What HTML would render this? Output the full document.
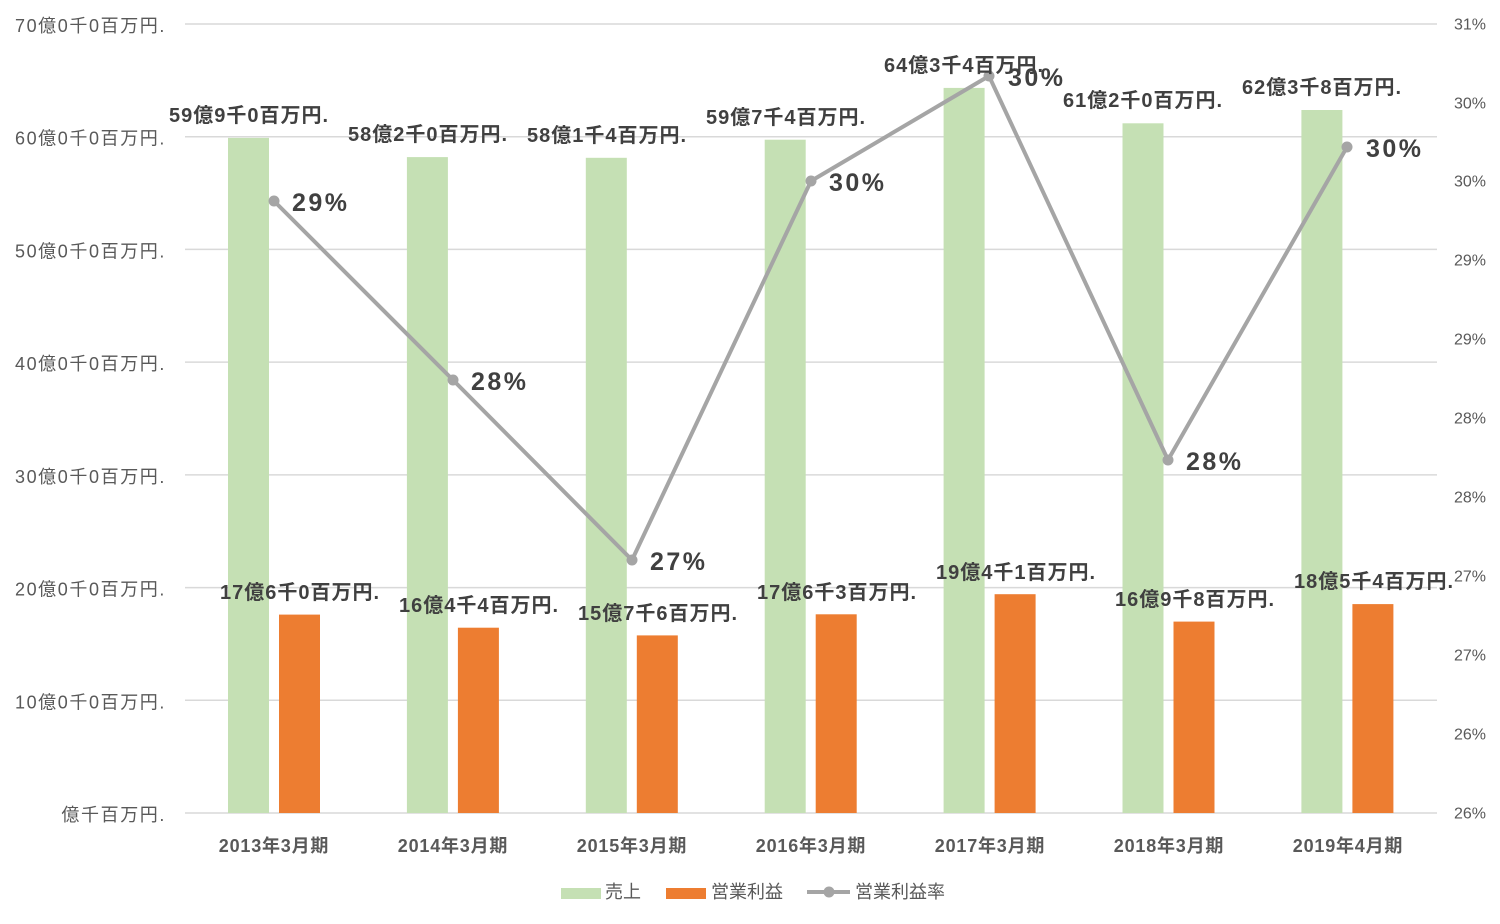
<!DOCTYPE html>
<html>
<head>
<meta charset="utf-8">
<style>
  html, body { margin:0; padding:0; background:#ffffff; }
  svg { display:block; }
  text { font-family: "Liberation Sans", "Noto Sans CJK JP", sans-serif; }
  .ax { font-size:18px; fill:#595959; letter-spacing:1.6px; }
  .axr { font-size:16px; fill:#595959; }
  .cat { font-size:18px; font-weight:bold; fill:#595959; letter-spacing:0.8px; }
  .gl { font-size:20px; font-weight:bold; fill:#404040; letter-spacing:1px; }
  .ol { font-size:20px; font-weight:bold; fill:#404040; letter-spacing:1px; }
  .pl { font-size:25px; font-weight:bold; fill:#404040; letter-spacing:2.5px; }
  .lg { font-size:18px; fill:#595959; }
</style>
</head>
<body>
<svg width="1500" height="924" viewBox="0 0 1500 924" xmlns="http://www.w3.org/2000/svg">
  <rect width="1500" height="924" fill="#ffffff"/>
  <g stroke="#D9D9D9" stroke-width="1.5">
    <line x1="185" y1="24" x2="1437" y2="24"/>
    <line x1="185" y1="136.7" x2="1437" y2="136.7"/>
    <line x1="185" y1="249.4" x2="1437" y2="249.4"/>
    <line x1="185" y1="362.1" x2="1437" y2="362.1"/>
    <line x1="185" y1="474.9" x2="1437" y2="474.9"/>
    <line x1="185" y1="587.6" x2="1437" y2="587.6"/>
    <line x1="185" y1="700.3" x2="1437" y2="700.3"/>
    <line x1="185" y1="813" x2="1437" y2="813"/>
  </g>
  <g class="ax" text-anchor="end" dominant-baseline="central">
    <text x="166" y="26">70億0千0百万円.</text>
    <text x="166" y="138.7">60億0千0百万円.</text>
    <text x="166" y="251.4">50億0千0百万円.</text>
    <text x="166" y="364.1">40億0千0百万円.</text>
    <text x="166" y="476.9">30億0千0百万円.</text>
    <text x="166" y="589.6">20億0千0百万円.</text>
    <text x="166" y="702.3">10億0千0百万円.</text>
    <text x="166" y="815">億千百万円.</text>
  </g>
  <g class="axr" dominant-baseline="central">
    <text x="1454" y="25">31%</text>
    <text x="1454" y="104">30%</text>
    <text x="1454" y="182">30%</text>
    <text x="1454" y="261">29%</text>
    <text x="1454" y="340">29%</text>
    <text x="1454" y="419">28%</text>
    <text x="1454" y="498">28%</text>
    <text x="1454" y="577">27%</text>
    <text x="1454" y="656">27%</text>
    <text x="1454" y="735">26%</text>
    <text x="1454" y="814">26%</text>
  </g>
  <g fill="#C5E0B4">
    <rect x="228" y="137.9" width="41" height="675.1"/>
    <rect x="406.9" y="157.1" width="41" height="655.9"/>
    <rect x="585.8" y="157.8" width="41" height="655.2"/>
    <rect x="764.7" y="139.7" width="41" height="673.3"/>
    <rect x="943.6" y="87.9" width="41" height="725.1"/>
    <rect x="1122.5" y="123.3" width="41" height="689.7"/>
    <rect x="1301.4" y="110" width="41" height="703"/>
  </g>
  <g fill="#ED7D31">
    <rect x="279" y="614.6" width="41" height="198.4"/>
    <rect x="457.9" y="627.7" width="41" height="185.3"/>
    <rect x="636.8" y="635.4" width="41" height="177.6"/>
    <rect x="815.7" y="614.3" width="41" height="198.7"/>
    <rect x="994.6" y="594.2" width="41" height="218.8"/>
    <rect x="1173.5" y="621.6" width="41" height="191.4"/>
    <rect x="1352.4" y="604.1" width="41" height="208.9"/>
  </g>
  <polyline points="274,201 453,380 632,560 811,181 989,76 1168,460 1347,147" fill="none" stroke="#A5A5A5" stroke-width="4" stroke-linejoin="round"/>
  <g fill="#A5A5A5">
    <circle cx="274" cy="201" r="5.5"/>
    <circle cx="453" cy="380" r="5.5"/>
    <circle cx="632" cy="560" r="5.5"/>
    <circle cx="811" cy="181" r="5.5"/>
    <circle cx="989" cy="76" r="5.5"/>
    <circle cx="1168" cy="460" r="5.5"/>
    <circle cx="1347" cy="147" r="5.5"/>
  </g>
  <g class="gl" text-anchor="middle" dominant-baseline="central">
    <text x="249" y="116">59億9千0百万円.</text>
    <text x="428" y="135">58億2千0百万円.</text>
    <text x="607" y="136">58億1千4百万円.</text>
    <text x="786" y="118">59億7千4百万円.</text>
    <text x="964" y="66">64億3千4百万円.</text>
    <text x="1143" y="101">61億2千0百万円.</text>
    <text x="1322" y="88">62億3千8百万円.</text>
  </g>
  <g class="ol" text-anchor="middle" dominant-baseline="central">
    <text x="300" y="593">17億6千0百万円.</text>
    <text x="479" y="606">16億4千4百万円.</text>
    <text x="658" y="614">15億7千6百万円.</text>
    <text x="837" y="593">17億6千3百万円.</text>
    <text x="1016" y="573">19億4千1百万円.</text>
    <text x="1195" y="600">16億9千8百万円.</text>
    <text x="1374" y="582">18億5千4百万円.</text>
  </g>
  <g class="pl" dominant-baseline="central">
    <text x="292" y="203">29%</text>
    <text x="471" y="382">28%</text>
    <text x="650" y="562">27%</text>
    <text x="829" y="183">30%</text>
    <text x="1008" y="78">30%</text>
    <text x="1186" y="462">28%</text>
    <text x="1366" y="149">30%</text>
  </g>
  <g class="cat" text-anchor="middle" dominant-baseline="central">
    <text x="274" y="846">2013年3月期</text>
    <text x="453" y="846">2014年3月期</text>
    <text x="632" y="846">2015年3月期</text>
    <text x="811" y="846">2016年3月期</text>
    <text x="990" y="846">2017年3月期</text>
    <text x="1169" y="846">2018年3月期</text>
    <text x="1348" y="846">2019年4月期</text>
  </g>
  <rect x="561" y="888" width="40" height="11" fill="#C5E0B4"/>
  <text class="lg" x="605" y="892" dominant-baseline="central">売上</text>
  <rect x="666" y="888" width="40" height="11" fill="#ED7D31"/>
  <text class="lg" x="711" y="892" dominant-baseline="central">営業利益</text>
  <line x1="807" y1="892" x2="850" y2="892" stroke="#A5A5A5" stroke-width="4"/>
  <circle cx="829" cy="892" r="5.5" fill="#A5A5A5"/>
  <text class="lg" x="855" y="892" dominant-baseline="central">営業利益率</text>
</svg>
</body>
</html>
